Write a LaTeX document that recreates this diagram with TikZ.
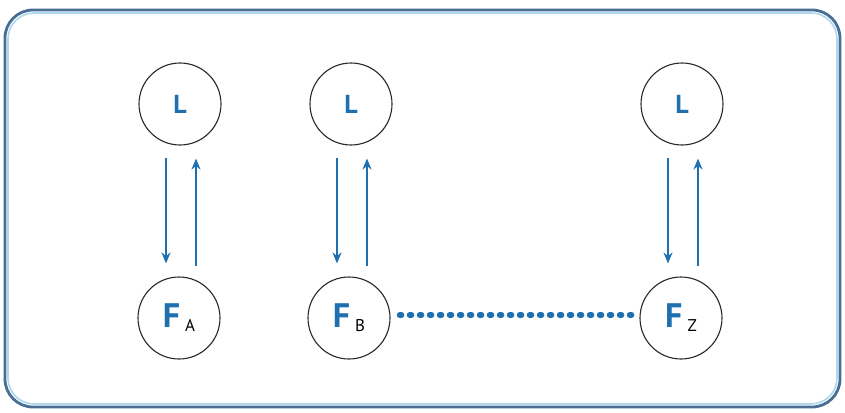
\documentclass[tikz,border=0pt]{standalone}
\usepackage{fontspec}
\usetikzlibrary{arrows.meta}
\newfontfamily\labfont{PT Sans}
\definecolor{myblue}{RGB}{30,112,176}
\definecolor{framecol}{RGB}{72,110,150}
\definecolor{framelight}{RGB}{175,215,238}
\definecolor{circcol}{RGB}{40,40,40}
\begin{document}
\begin{tikzpicture}[x=1pt,y=-1pt,
  ring/.style={circle,draw=circcol,line width=1.1pt,minimum size=82pt,inner sep=0pt,fill=white},
  ltext/.style={font=\labfont\bfseries\fontsize{26}{26}\selectfont,text=myblue},
  ftext/.style={font=\labfont\bfseries\fontsize{34}{34}\selectfont,text=myblue},
  conn/.style={draw=myblue,line width=1.6pt,-{Stealth[length=11pt,width=9pt]}},
  dotline/.style={draw=myblue,line width=5.5pt,line cap=round,dash pattern=on 2pt off 8pt},
  frame/.style={draw=framecol,line width=2.8pt,rounded corners=28pt}]
\useasboundingbox (0,0) rectangle (845,412);
\fill[white] (0,0) rectangle (845,412);
\draw[framelight,line width=1.6pt,rounded corners=26pt] (8,13) rectangle (837,404);
\draw[frame] (5,10) rectangle (840,407);
% circles
\node[ring] (L1) at (180,104) {};
\node[ring] (L2) at (351,104) {};
\node[ring] (L3) at (682,104) {};
\node[ring] (FA) at (179,318) {};
\node[ring] (FB) at (349,318) {};
\node[ring] (FZ) at (681,318) {};
% labels
\node[ltext] (tL1) at (L1.center) {L};
\node[ltext] (tL2) at (L2.center) {L};
\node[ltext] (tL3) at (L3.center) {L};
\node[ftext] (tFA) at (FA.center) {F\hspace{5pt}\raisebox{-4pt}{\color{black}\mdseries\fontsize{17}{17}\selectfont A}};
\node[ftext] (tFB) at (FB.center) {F\hspace{5pt}\raisebox{-4pt}{\color{black}\mdseries\fontsize{17}{17}\selectfont B}};
\node[ftext] (tFZ) at (FZ.center) {F\hspace{5pt}\raisebox{-4pt}{\color{black}\mdseries\fontsize{17}{17}\selectfont Z}};
% arrows
\foreach \l/\f in {L1/FA,L2/FB,L3/FZ}{
  \draw[conn] ([xshift=-14pt,yshift=-12pt]\l.south) -- ([xshift=-14pt,yshift=13pt]\f.north -| \l.south);
  \draw[conn] ([xshift=16pt,yshift=10pt]\f.north -| \l.south) -- ([xshift=16pt,yshift=-13pt]\l.south);
}
% dotted connector
\draw[dotline,shorten <=9pt,shorten >=5pt] ([yshift=3pt]FB.east) -- ([yshift=3pt]FZ.west);
\end{tikzpicture}
\end{document}
